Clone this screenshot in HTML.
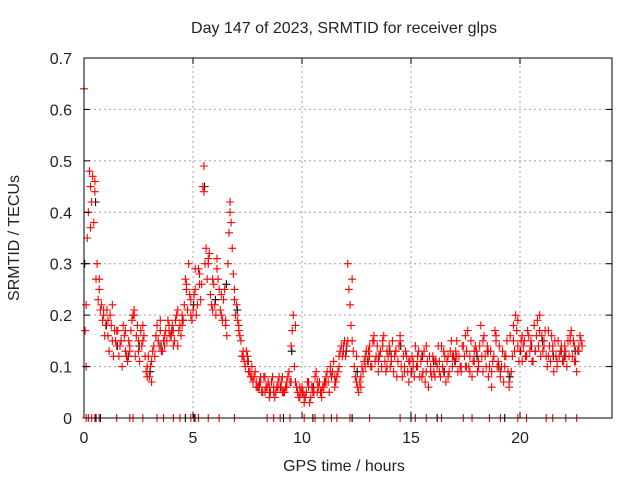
<!DOCTYPE html>
<html><head><meta charset="utf-8"><style>
body{margin:0;background:#fff;}
svg text{font-family:"Liberation Sans",sans-serif;fill:#222;}
</style></head><body>
<svg id="chart" width="640" height="480" xmlns="http://www.w3.org/2000/svg">
<rect width="640" height="480" fill="#fff"/>
<g id="grid"></g>
<g id="marks"></g>
<rect x="84" y="58" width="528" height="360" fill="none" stroke="#000" stroke-width="1"/>
<g id="ticks"></g>
<text x="344" y="33" font-size="16" text-anchor="middle">Day 147 of 2023, SRMTID for receiver glps</text>
<text x="344" y="471" font-size="16" text-anchor="middle">GPS time / hours</text>
<text x="0" y="0" font-size="16" text-anchor="middle" transform="translate(19,238) rotate(-90)">SRMTID / TECUs</text>
</svg>
<script>
const xTicks=[0,5,10,15,20];
const yTicks=[0,0.1,0.2,0.3,0.4,0.5,0.6,0.7];
const yTickLabels=["0","0.1","0.2","0.3","0.4","0.5","0.6","0.7"];
const redA=[.64,.22,.40,.45,.47,.44,.30,.25,.22,.20,
.18,.16,.20,.15,.17,.14,.12,.15,.18,.13,
.11,.14,.19,.20,.16,.13,.17,.15,.12,.10,
.08,.07,.14,.16,.15,.17,.13,.16,.15,.18,
.16,.17,.19,.14,.18,.20,.22,.25,.30,.23,
.21,.25,.22,.28,.26,.49,.33,.30,.24,.27,
.22,.31,.25,.20,.23,.18,.30,.42,.33,.25,
.22,.18,.15,.13,.10,.12,.09,.10,.08,.07,
.06,.07,.05,.08,.06,.04,.07,.06,.05,.07,
.06,.08,.05,.07,.09,.14,.20,.07,.05,.04,
.06,.03,.05,.07,.04,.06,.08,.05,.07,.04,
.06,.08,.07,.10,.09,.06,.08,.12,.14,.13,
.12,.30,.22,.15,.10,.07,.05,.08,.09,.12,
.11,.14,.10,.16,.12,.09,.13,.15,.11,.10,
.14,.12,.09,.13,.11,.15,.08,.10,.12,.07,
.09,.11,.14,.10,.08,.12,.13,.09,.06,.10,
.12,.08,.10,.11,.14,.09,.07,.12,.13,.10,
.11,.15,.12,.09,.14,.10,.17,.12,.08,.11,
.13,.10,.18,.09,.12,.14,.10,.06,.12,.15,
.11,.08,.13,.10,.15,.07,.09,.18,.20,.14,
.13,.11,.15,.12,.16,.14,.11,.13,.19,.20,
.16,.14,.12,.17,.11,.13,.15,.10,.12,.14,
.11,.13,.15,.16,.12,.14,.09,.13,.15];
const redB=[.17,.35,.48,.42,.38,.27,.23,.21,.19,.16,
.21,.13,.18,.12,.15,.17,.14,.10,.16,.12,
.15,.17,.20,.12,.18,.11,.14,.16,.09,.12,
.10,.13,.12,.18,.14,.13,.15,.17,.19,.16,
.18,.15,.20,.17,.16,.19,.27,.21,.24,.19,
.24,.20,.29,.23,.45,.30,.27,.32,.22,.26,
.20,.27,.21,.19,.25,.16,.36,.38,.28,.20,
.19,.16,.12,.11,.13,.09,.08,.07,.09,.06,
.07,.05,.08,.06,.07,.05,.08,.04,.06,.08,
.07,.05,.06,.08,.07,.17,.10,.06,.04,.05,
.05,.04,.07,.03,.06,.05,.09,.06,.05,.06,
.07,.09,.05,.08,.11,.07,.09,.13,.12,.15,
.14,.25,.18,.13,.08,.06,.07,.10,.11,.13,
.13,.10,.15,.11,.14,.12,.10,.16,.09,.12,
.10,.15,.12,.08,.14,.10,.12,.13,.09,.11,
.12,.08,.10,.13,.11,.09,.07,.11,.12,.08,
.09,.11,.14,.08,.10,.12,.11,.09,.15,.12,
.13,.09,.10,.14,.12,.13,.10,.15,.11,.14,
.09,.14,.12,.16,.10,.08,.13,.11,.17,.10,
.14,.10,.07,.12,.09,.16,.12,.13,.17,.11,
.15,.14,.12,.17,.13,.11,.18,.16,.14,.12,
.13,.17,.10,.14,.16,.09,.12,.15,.13,.11,
.14,.10,.12,.17,.15,.11,.13,.16,.14];
const redC=[.10,.37,.46,.27,.21,.19,.22,.17,.15,.17,
.13,.21,.15,.18,.08,.11,.16,.19,.14,.17,
.14,.21,.18,.26,.20,.29,.26,.44,.31,.21,
.29,.24,.19,.40,.23,.17,.12,.11,.08,.06,
.08,.05,.06,.05,.06,.05,.06,.07,.18,.06,
.04,.06,.05,.07,.05,.07,.09,.08,.10,.14,
.15,.27,.12,.06,.10,.12,.15,.11,.14,.13,
.11,.13,.16,.09,.11,.10,.12,.08,.14,.09,
.11,.09,.13,.08,.12,.12,.10,.16,.09,.13,
.11,.15,.13,.09,.16,.09,.12,.06,.15,.19,
.16,.12,.15,.13,.17,.15,.12,.14,.11,.13,
.12,.15,.11,.14];
const black=[.30,.42,.18,.14,.12,.14,.09,.14,.17,.19,.22,.45,.23,.26,.21,.11,.06,.05,.06,.13,.05,.06,.07,.07,.13,.09,.11,.12,.13,.14,.09,.12,.11,.09,.11,.10,.12,.13,.10,.08,.13,.14,.15,.12,.12,.13];
const redZeroTimes=[0.1,0.2,0.35,0.5,0.7,1.5,2.1,2.25,2.7,3.35,3.65,4.1,4.4,4.9,5.1,5.25,5.7,6.2,6.9,8.4,8.7,9.0,9.45,10.1,10.6,11.0,11.35,11.6,12.2,13.1,14.5,15.2,15.7,16.4,17.4,17.8,18.6,19.1,19.9,20.3,21.2,21.5,22.1,22.6];
const blackZeroTimes=[0.55,0.75,4.65,5.05,9.15,10.5,12.3,15.0,16.2,19.3];
const X0=84,X1=612,Y0=418,Y1=58,XMAX=24.22,YMAX=0.7;
const sx=v=>X0+v/XMAX*(X1-X0);
const sy=v=>Y0-v/YMAX*(Y0-Y1);
const NS="http://www.w3.org/2000/svg";
const grid=document.getElementById('grid'),ticks=document.getElementById('ticks'),marks=document.getElementById('marks');
function mk(tag,attrs,parent){const e=document.createElementNS(NS,tag);for(const k in attrs)e.setAttribute(k,attrs[k]);parent.appendChild(e);return e;}
yTicks.forEach((v,i)=>{
  const y=sy(v);
  if(i>0&&i<yTicks.length-1){const g=mk('line',{x1:X0,x2:X1,y1:y,y2:y,stroke:'#a0a0a0','stroke-dasharray':'2,3'},grid);
  
  }
  const t=mk('text',{x:X0-12,y:y+6,'font-size':16,'text-anchor':'end'},ticks);t.textContent=yTickLabels[i];
  
  
  mk('line',{x1:X0,x2:X0+6,y1:y,y2:y,stroke:'#000'},ticks);
  mk('line',{x1:X1,x2:X1-6,y1:y,y2:y,stroke:'#000'},ticks);
});
xTicks.forEach((v,i)=>{
  const x=sx(v);
  if(i>0){const g=mk('line',{x1:x,x2:x,y1:Y0,y2:Y1,stroke:'#a0a0a0','stroke-dasharray':'2,3'},grid);
  
  }
  const t=mk('text',{x:x,y:Y0+25,'font-size':16,'text-anchor':'middle'},ticks);t.textContent=String(v);
  
  
  mk('line',{x1:x,x2:x,y1:Y0,y2:Y0-6,stroke:'#000'},ticks);
  mk('line',{x1:x,x2:x,y1:Y1,y2:Y1+6,stroke:'#000'},ticks);
});
function plus(t,v,color,name){
  const x=sx(t),y=sy(v);
  const p=mk('path',{d:`M${x-4},${y}H${x+4}M${x},${y-4}V${y+4}`,stroke:color,'stroke-width':1.1,fill:'none'},marks);
  
  
}
black.forEach((v,i)=>plus(i*0.5+0.03,v,'#000','black-point'));
blackZeroTimes.forEach(t=>plus(t,0,'#000','black-zero-point'));
redA.forEach((v,i)=>plus(i*0.1,v,'#ff0000','red-point'));
redB.forEach((v,i)=>plus(i*0.1+0.05,v,'#ff0000','red-point'));
redC.forEach((v,i)=>plus(i*0.2+0.1,v,'#ff0000','red-point'));
redZeroTimes.forEach(t=>plus(t,0,'#ff0000','red-zero-point'));
</script>
</body></html>
